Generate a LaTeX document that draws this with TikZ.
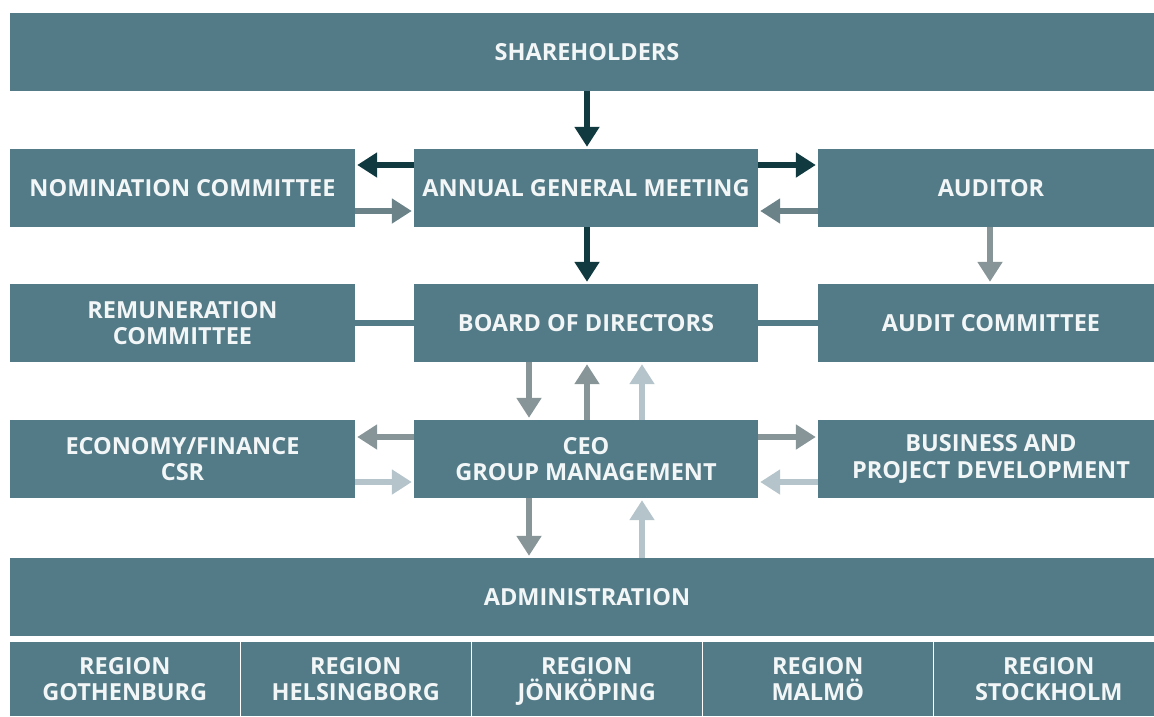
\documentclass[tikz,border=0pt]{standalone}
\usepackage{fontspec}
\setmainfont{Open Sans}
\usetikzlibrary{arrows.meta}
\definecolor{boxfill}{RGB}{83,123,135}
\definecolor{darkarrow}{RGB}{16,58,64}
\definecolor{midarrow}{RGB}{107,130,137}
\definecolor{greyarrow}{RGB}{135,149,153}
\definecolor{lightarrow}{RGB}{181,196,202}
\definecolor{labeltext}{RGB}{242,246,247}
\tikzset{
  orgbox/.style={fill=boxfill, inner sep=0pt, text=labeltext, align=center,
    font=\fontsize{23.5}{26.5}\selectfont\bfseries, minimum height=78pt},
  regbox/.style={orgbox, minimum height=74pt, minimum width=229.5pt},
  flow/.style={line width=6pt, -{Triangle[width=24pt,length=20pt]}, shorten >=2pt},
  link/.style={line width=6pt, draw=boxfill},
}
\begin{document}
\begin{tikzpicture}[x=1pt,y=-1pt]
\useasboundingbox (0,0) rectangle (1154,716);
% top level
\node[orgbox, minimum width=1154pt] (sh) at (587,52) {SHAREHOLDERS};
% second row
\node[orgbox, minimum width=345pt] (nom) at (182.5,188) {NOMINATION COMMITTEE};
\node[orgbox, minimum width=344pt] (agm) at (586,188) {ANNUAL GENERAL MEETING};
\node[orgbox, minimum width=346pt] (aud) at (991,188) {AUDITOR};
% third row
\node[orgbox, minimum width=345pt] (rem) at (182.5,323) {REMUNERATION\\COMMITTEE};
\node[orgbox, minimum width=344pt] (board) at (586,323) {BOARD OF DIRECTORS};
\node[orgbox, minimum width=346pt] (acom) at (991,323) {AUDIT COMMITTEE};
% fourth row
\node[orgbox, minimum width=345pt] (eco) at (182.5,459) {ECONOMY/FINANCE\\CSR};
\node[orgbox, minimum width=344pt] (ceo) at (586,459) {CEO\\GROUP MANAGEMENT};
\node[orgbox, minimum width=346pt] (bus) at (991,459) {BUSINESS AND\\PROJECT DEVELOPMENT};
% administration and regions
\node[orgbox, minimum width=1154pt] (adm) at (587,597) {ADMINISTRATION};
\node[regbox] (r1) at (124.75,679) {REGION\\GOTHENBURG};
\node[regbox] (r2) at (355.75,679) {REGION\\HELSINGBORG};
\node[regbox] (r3) at (586.75,679) {REGION\\\smash{JÖNKÖPING}};
\node[regbox] (r4) at (817.75,679) {REGION\\\smash{MALMÖ}};
\node[regbox] (r5) at (1048.75,679) {REGION\\STOCKHOLM};

% connectors
\draw[flow, darkarrow] (sh.south) -- ([xshift=1pt]agm.north);
\draw[flow, darkarrow] ([xshift=1pt]agm.south) -- ([xshift=1pt]board.north);
\draw[flow, darkarrow] ([yshift=23pt]agm.west) -- ([yshift=23pt]nom.east);
\draw[flow, midarrow] ([yshift=-23pt]nom.east) -- ([yshift=-23pt]agm.west);
\draw[flow, darkarrow] ([yshift=23pt]agm.east) -- ([yshift=23pt]aud.west);
\draw[flow, midarrow] ([yshift=-23pt]aud.west) -- ([yshift=-23pt]agm.east);
\draw[flow, greyarrow] ([xshift=-1pt]aud.south) -- ([xshift=-1pt]acom.north);
\draw[link] (rem.east) -- (board.west);
\draw[link] (board.east) -- (acom.west);
\draw[flow, greyarrow] ([xshift=-57pt]board.south) -- ([xshift=-57pt]ceo.north);
\draw[flow, greyarrow] ([xshift=1pt]ceo.north) -- ([xshift=1pt]board.south);
\draw[flow, lightarrow] ([xshift=56pt]ceo.north) -- ([xshift=56pt]board.south);
\draw[flow, greyarrow] ([yshift=22pt]ceo.west) -- ([yshift=22pt]eco.east);
\draw[flow, lightarrow] ([yshift=-23pt]eco.east) -- ([yshift=-23pt]ceo.west);
\draw[flow, greyarrow] ([yshift=22pt]ceo.east) -- ([yshift=22pt]bus.west);
\draw[flow, lightarrow] ([yshift=-23pt]bus.west) -- ([yshift=-23pt]ceo.east);
\draw[flow, greyarrow] ([xshift=-57pt]ceo.south) -- ([xshift=-57pt]ceo.south |- adm.north);
\draw[flow, lightarrow] ([xshift=56pt]ceo.south |- adm.north) -- ([xshift=56pt]ceo.south);
\end{tikzpicture}
\end{document}
